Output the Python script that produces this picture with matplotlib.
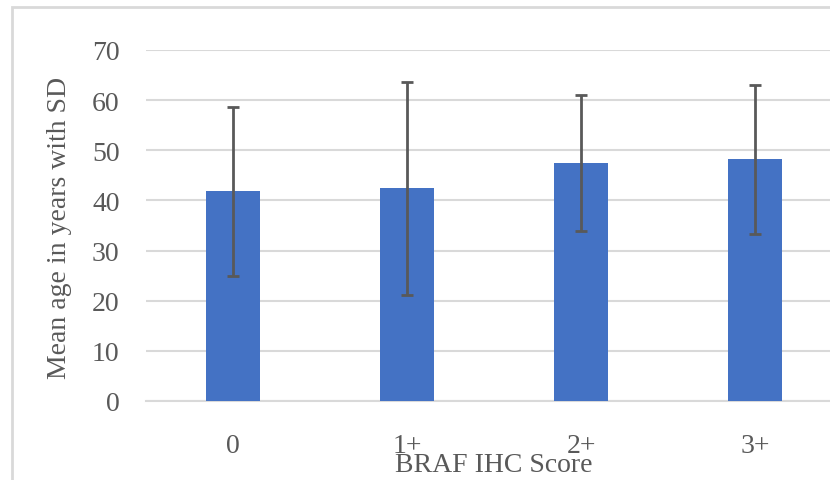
import numpy as np
import matplotlib.pyplot as plt
from matplotlib.patches import Rectangle

# values
scores = ['0', '1+', '2+', '3+']
mean_age = [41.8, 42.4, 47.5, 48.2]
sd_age = [16.8, 21.3, 13.6, 14.8]

grey = '#595959'
plt.rcParams['font.family'] = ['Liberation Serif', 'DejaVu Serif']

fig = plt.figure(figsize=(8.30, 4.81), dpi=100)

# outer chart frame (light grey border, cut off at right/bottom)
fig.patches.append(Rectangle((12 / 830, -0.1), 1.2, (481 - 8) / 481 + 0.1,
                             transform=fig.transFigure, fill=False,
                             edgecolor='#d9d9d9', linewidth=2))

ax = fig.add_axes([146 / 830, 79 / 481, 696 / 830, 351 / 481])

x = np.arange(len(scores))
ax.bar(x, mean_age, width=0.315, color='#4472C4', zorder=3)
ax.errorbar(x, mean_age, yerr=sd_age, fmt='none', ecolor=grey,
            elinewidth=2, capsize=4.3, capthick=2, zorder=4)

ax.set_xlim(-0.5, 3.5)
ax.set_ylim(0, 70)
ax.set_yticks(range(0, 71, 10))
ax.set_xticks(x)
ax.set_xticklabels(scores)
ax.yaxis.grid(True, color='#d9d9d9', linewidth=1.5, zorder=0)
ax.set_axisbelow(True)
for side in ['top', 'right', 'left']:
    ax.spines[side].set_visible(False)
ax.spines['bottom'].set_color('#d9d9d9')
ax.spines['bottom'].set_linewidth(1.5)
ax.tick_params(axis='both', length=0, colors=grey, labelsize=20)
ax.tick_params(axis='y', pad=19)
ax.tick_params(axis='x', pad=23)

fig.text(59 / 830, 1 - 228 / 481, 'Mean age in years with SD', rotation=90,
         ha='center', va='center', fontsize=20, color=grey)
fig.text(494 / 830, 1 - 466 / 481, 'BRAF IHC Score',
         ha='center', va='center', fontsize=20, color=grey)

fig.savefig('out.png', dpi=100)
